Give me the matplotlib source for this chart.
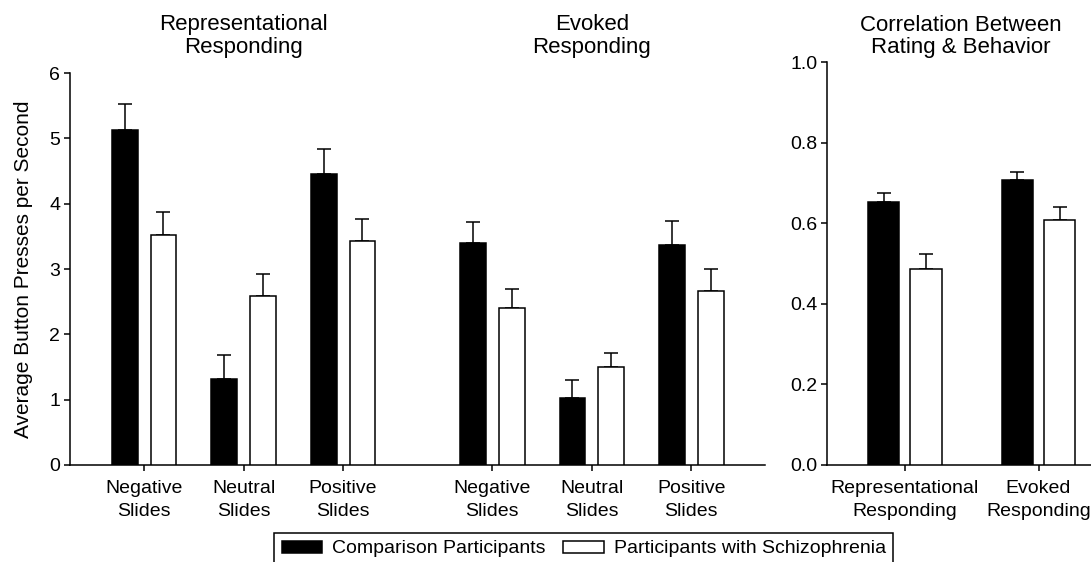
#!/usr/bin/env python3
"""Button-press rates and rating/behaviour correlations by group."""

import matplotlib

matplotlib.use("Agg")
import matplotlib.pyplot as plt
from matplotlib.patches import Patch
import numpy as np

plt.rcParams["font.family"] = ["Liberation Sans", "DejaVu Sans"]
plt.rcParams["font.size"] = 14

slide_labels = ["Negative\nSlides", "Neutral\nSlides", "Positive\nSlides"]
task_labels = ["Representational\nResponding", "Evoked\nResponding"]
group_labels = ["Comparison Participants", "Participants with Schizophrenia"]

# presses per second, mean and SEM
rep_comparison = [5.13, 1.31, 4.46]
rep_comparison_sem = [0.40, 0.38, 0.38]
rep_schizo = [3.52, 2.58, 3.43]
rep_schizo_sem = [0.35, 0.34, 0.34]
evoked_comparison = [3.40, 1.02, 3.36]
evoked_comparison_sem = [0.32, 0.28, 0.37]
evoked_schizo = [2.40, 1.50, 2.66]
evoked_schizo_sem = [0.29, 0.22, 0.34]

# rating/behaviour correlation, mean and SEM
corr_comparison = [0.653, 0.708]
corr_comparison_sem = [0.023, 0.020]
corr_schizo = [0.487, 0.608]
corr_schizo_sem = [0.037, 0.032]

LW = 1.1
TITLE_SIZE = 16


def bars(ax, x, values, sem, offset, width, color):
    x = np.asarray(x) + offset
    ax.bar(x, values, width, color=color, edgecolor="black", linewidth=LW, zorder=3)
    ax.errorbar(x, values, yerr=[np.zeros(len(values)), sem], fmt="none",
                ecolor="black", elinewidth=LW, capsize=5, capthick=LW, zorder=2)


def style(ax):
    for side in ("top", "right"):
        ax.spines[side].set_visible(False)
    for side in ("left", "bottom"):
        ax.spines[side].set_linewidth(LW)
    ax.tick_params(direction="out", length=4, width=LW, pad=3)
    ax.tick_params(axis="x", pad=7)
    for lab in ax.get_xticklabels():
        lab.set_linespacing(1.45)


fig = plt.figure(figsize=(10.91, 5.62), dpi=100)
ax1 = fig.add_axes([0.0642, 0.1726, 0.637, 0.6975])
ax2 = fig.add_axes([0.758, 0.1726, 0.245, 0.7166])

rep_x = [0.0, 1.0, 2.0]
evoked_x = [3.5, 4.5, 5.5]
w, off = 0.26, 0.195
bars(ax1, rep_x, rep_comparison, rep_comparison_sem, -off, w, "black")
bars(ax1, rep_x, rep_schizo, rep_schizo_sem, off, w, "white")
bars(ax1, evoked_x, evoked_comparison, evoked_comparison_sem, -off, w, "black")
bars(ax1, evoked_x, evoked_schizo, evoked_schizo_sem, off, w, "white")
ax1.set_xlim(-0.744, 6.24)
ax1.set_ylim(0, 6)
ax1.set_yticks(range(7))
ax1.set_xticks(rep_x + evoked_x)
ax1.set_xticklabels(slide_labels * 2)
ax1.set_ylabel("Average Button Presses per Second", fontsize=15, labelpad=12)
style(ax1)
for x, label in zip([rep_x[1], evoked_x[1]], task_labels):
    ax1.annotate(label, xy=(x, 1), xycoords=("data", "axes fraction"),
                 xytext=(0, 11), textcoords="offset points",
                 ha="center", va="bottom", fontsize=TITLE_SIZE, linespacing=1.1)

task_x = [0.0, 1.0]
w2, off2 = 0.235, 0.158
bars(ax2, task_x, corr_comparison, corr_comparison_sem, -off2, w2, "black")
bars(ax2, task_x, corr_schizo, corr_schizo_sem, off2, w2, "white")
ax2.set_xlim(-0.583, 1.417)
ax2.set_ylim(0, 1.0)
ax2.set_yticks(np.arange(0, 1.01, 0.2))
ax2.set_yticklabels([f"{v:.1f}" for v in np.arange(0, 1.01, 0.2)])
ax2.set_xticks(task_x)
ax2.set_xticklabels(task_labels)
style(ax2)
ax2.annotate("Correlation Between\nRating & Behavior", xy=(0.5, 1),
             xycoords="axes fraction", xytext=(0, 3), textcoords="offset points",
             ha="center", va="bottom", fontsize=TITLE_SIZE, linespacing=1.1)

# legend box runs off the bottom edge of the figure
handles = [Patch(facecolor="black", edgecolor="black", linewidth=LW),
           Patch(facecolor="white", edgecolor="black", linewidth=LW)]
leg = fig.legend(handles, group_labels, ncol=2, loc="upper center",
                 bbox_to_anchor=(0.535, 0.0516), borderaxespad=0,
                 fancybox=False, framealpha=1, edgecolor="black",
                 handlelength=2.1, handleheight=0.57, borderpad=0.38,
                 columnspacing=0.9, handletextpad=0.5)
leg.get_frame().set_linewidth(LW)

fig.savefig("out.png", dpi=100)
